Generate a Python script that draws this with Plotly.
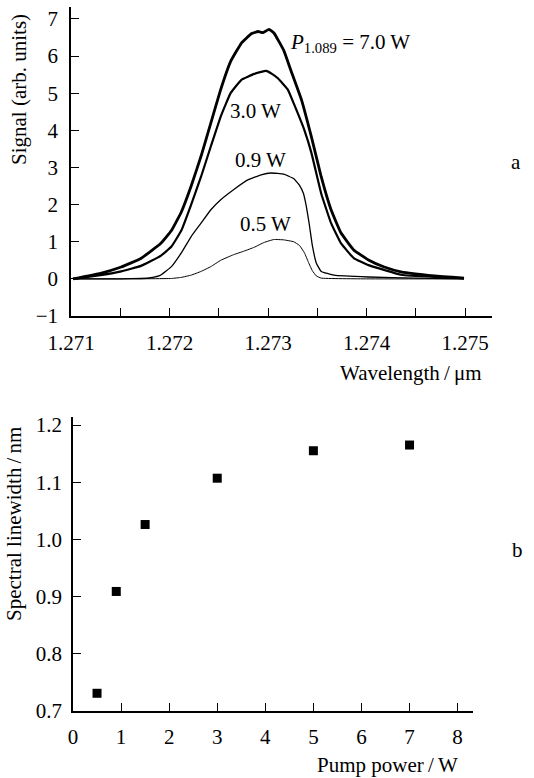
import plotly.graph_objects as go

# ---- Panel a: spectra (wavelength in micrometres, signal in arb. units)
wl_7w = [1.27102, 1.27130, 1.27151, 1.27171, 1.27191, 1.27202, 1.27212, 1.27222, 1.27232,
         1.27242, 1.27252, 1.27262, 1.27273, 1.27283, 1.27290, 1.27295, 1.27301, 1.27306,
         1.27316, 1.27323, 1.27334, 1.27344, 1.27354, 1.27364, 1.27374, 1.27387, 1.27402,
         1.27418, 1.27435, 1.27469, 1.27499]
sig_7w = [0.0, 0.15, 0.32, 0.55, 0.95, 1.3, 1.8, 2.5, 3.3,
          4.2, 5.1, 5.85, 6.35, 6.6, 6.66, 6.63, 6.72, 6.62,
          6.15, 5.63, 4.82, 3.83, 2.75, 1.86, 1.24, 0.78, 0.51,
          0.32, 0.19, 0.08, 0.02]

wl_3w = [1.27102, 1.27130, 1.27151, 1.27171, 1.27191, 1.27202, 1.27212, 1.27222, 1.27232,
         1.27242, 1.27252, 1.27262, 1.27273, 1.27286, 1.27298, 1.27304, 1.27310, 1.27320,
         1.27326, 1.27337, 1.27344, 1.27354, 1.27364, 1.27374, 1.27387, 1.27402, 1.27418,
         1.27435, 1.27469, 1.27499]
sig_3w = [0.0, 0.1, 0.2, 0.35, 0.62, 0.87, 1.3, 2.0, 2.75,
          3.57, 4.37, 5.0, 5.36, 5.52, 5.6, 5.52, 5.4, 5.1,
          4.73, 4.0, 3.4, 2.3, 1.5, 0.96, 0.56, 0.37, 0.24,
          0.11, 0.05, 0.02]

wl_09w = [1.27102, 1.27151, 1.27171, 1.27181, 1.27191, 1.27202, 1.27212, 1.27222, 1.27232,
          1.27242, 1.27252, 1.27265, 1.27280, 1.27293, 1.27303, 1.27316, 1.27326, 1.27332,
          1.27336, 1.27339, 1.27342, 1.27345, 1.27349, 1.27354, 1.27367, 1.27402, 1.27450, 1.27499]
sig_09w = [0.0, 0.0, 0.01, 0.03, 0.1, 0.33, 0.7, 1.14, 1.5,
           1.86, 2.13, 2.4, 2.67, 2.8, 2.85, 2.82, 2.7, 2.52,
           2.3, 1.94, 1.45, 0.9, 0.43, 0.2, 0.1, 0.05, 0.02, 0.0]

wl_05w = [1.27102, 1.27151, 1.27202, 1.27212, 1.27222, 1.27232, 1.27242, 1.27252, 1.27265,
          1.27276, 1.27286, 1.27296, 1.27306, 1.27316, 1.27326, 1.27332, 1.27337, 1.27341,
          1.27345, 1.27349, 1.27354, 1.27400, 1.27499]
sig_05w = [0.0, 0.0, 0.01, 0.04, 0.1, 0.2, 0.33, 0.5, 0.65,
           0.75, 0.85, 0.98, 1.06, 1.05, 1.0, 0.9, 0.7, 0.45,
           0.22, 0.08, 0.02, 0.0, 0.0]

a_xticks = [1.271, 1.2715, 1.272, 1.2725, 1.273, 1.2735, 1.274, 1.2745, 1.275]
a_xlabels = ["1.271", "", "1.272", "", "1.273", "", "1.274", "", "1.275"]
a_yticks = [-1, 0, 1, 2, 3, 4, 5, 6, 7]
a_ylabels = ["\u22121", "0", "1", "2", "3", "4", "5", "6", "7"]

# ---- Panel b: linewidth vs pump power
pump_power = [0.5, 0.9, 1.5, 3.0, 5.0, 7.0]
linewidth = [0.731, 0.909, 1.026, 1.107, 1.155, 1.165]
b_xticks = [0, 1, 2, 3, 4, 5, 6, 7, 8]
b_yticks = [0.7, 0.8, 0.9, 1.0, 1.1, 1.2]
b_ylabels = ["0.7", "0.8", "0.9", "1.0", "1.1", "1.2"]

W, H = 534, 778
FONT = "Liberation Serif"
FS = 21

fig = go.Figure()
for wl, sig, lw in [(wl_05w, sig_05w, 1.0), (wl_09w, sig_09w, 1.3),
                    (wl_3w, sig_3w, 2.2), (wl_7w, sig_7w, 2.8)]:
    fig.add_trace(go.Scatter(x=wl, y=sig, mode="lines",
                             line=dict(color="black", width=lw, shape="spline", smoothing=0.3),
                             xaxis="x", yaxis="y", showlegend=False, hoverinfo="skip"))

fig.add_trace(go.Scatter(x=pump_power, y=linewidth, mode="markers",
                         marker=dict(symbol="square", size=9, color="black"),
                         xaxis="x2", yaxis="y2", showlegend=False))

def px_x(p):
    return p / W

def px_y(p):
    return 1 - p / H

axis_common = dict(showline=True, linecolor="black", linewidth=1.5, ticks="inside", ticklen=8,
                   tickwidth=1.3, tickcolor="black", showgrid=False, zeroline=False,
                   automargin=False,
                   tickfont=dict(family=FONT, size=FS, color="black"), mirror=False)

fig.update_layout(
    width=W, height=H, margin=dict(l=0, r=0, t=0, b=0),
    paper_bgcolor="white", plot_bgcolor="white",
    font=dict(family=FONT, size=FS, color="black"),
    xaxis=dict(domain=[px_x(71), px_x(492)], range=[1.271, 1.275274], anchor="y",
               tickmode="array", tickvals=a_xticks, ticktext=a_xlabels,
               ticklabelstandoff=7, **axis_common),
    yaxis=dict(domain=[px_y(316), px_y(7)], range=[-1, 7.32], anchor="x",
               tickmode="array", tickvals=a_yticks, ticktext=a_ylabels,
               ticklabelstandoff=7, **axis_common),
    xaxis2=dict(domain=[px_x(73), px_x(473)], range=[0, 8.32], anchor="y2",
                tickmode="array", tickvals=b_xticks, ticklabelstandoff=6, **axis_common),
    yaxis2=dict(domain=[px_y(711), px_y(417)], range=[0.7, 1.214], anchor="x2",
                tickmode="array", tickvals=b_yticks, ticktext=b_ylabels,
                ticklabelstandoff=5, **axis_common),
)

def ann(text, x, y, xanchor="center", yanchor="middle", angle=0, size=FS):
    fig.add_annotation(text=text, x=px_x(x), y=px_y(y), xref="paper", yref="paper",
                       xanchor=xanchor, yanchor=yanchor, textangle=angle, showarrow=False,
                       font=dict(family=FONT, size=size, color="black"))

ann("Signal (arb. units)", 19, 90, angle=-90)
ann("Wavelength\u2009/\u2009\u03bcm", 484, 373, xanchor="right")
ann("<i>P</i><sub>1.089</sub> = 7.0 W", 288, 43, xanchor="left")
ann("3.0 W", 255, 111)
ann("0.9 W", 260, 160)
ann("0.5 W", 265, 224)
ann("a", 516, 162)
ann("Spectral linewidth\u2009/\u2009nm", 14, 524, angle=-90)
ann("Pump power\u2009/\u2009W", 460, 765, xanchor="right")
ann("b", 517, 550)

fig.write_html("out.html")
